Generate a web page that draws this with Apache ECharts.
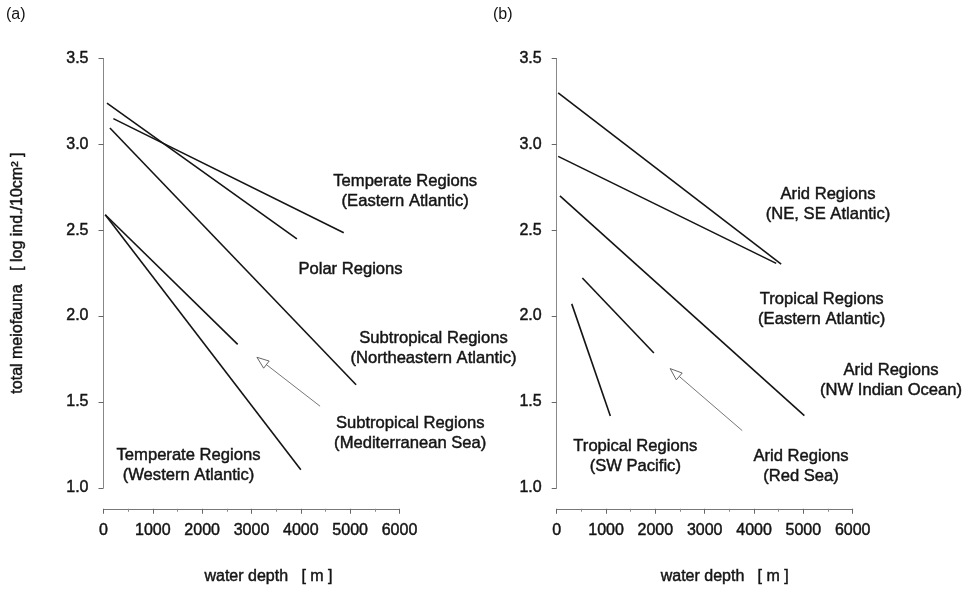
<!DOCTYPE html>
<html>
<head>
<meta charset="utf-8">
<script src="https://cdn.jsdelivr.net/npm/echarts@6/dist/echarts.min.js"></script>
<style>
  html, body { margin: 0; padding: 0; background: #fff; }
  #chart { width: 967px; height: 590px; }
</style>
</head>
<body>
<div id="chart"></div>
<script>
// Regression lines of total meiofauna (log ind./10cm²) against water depth (m).
// Each line is given by its [depth, log abundance] start and end points.

// Panel (a)
const aTemperateEast = [[200, 3.15], [4870, 2.485]];
const aPolar = [[70, 3.24], [3920, 2.45]];
const aSubtropNE = [[130, 3.095], [5120, 1.60]];
const aSubtropMed = [[35, 2.59], [2720, 1.835]];
const aTemperateWest = [[35, 2.59], [4000, 1.105]];
const aArrow = [4390, 1.475, 3110, 1.76]; // tail depth, tail value, head depth, head value

// Panel (b)
const bAridAtlantic = [[30, 3.30], [4550, 2.303]];
const bTropicalEast = [[30, 2.93], [4450, 2.307]];
const bAridIndian = [[65, 2.70], [5020, 1.42]];
const bAridRedSea = [[520, 2.222], [1970, 1.785]];
const bTropicalSWP = [[305, 2.071], [1087, 1.418]];
const bArrow = [3760, 1.333, 2300, 1.694];

// Region labels, anchored at [depth, log abundance]
const aLabelText = [
  'Temperate Regions\n(Eastern Atlantic)',
  'Polar Regions',
  'Subtropical Regions\n(Northeastern Atlantic)',
  'Subtropical Regions\n(Mediterranean Sea)',
  'Temperate Regions\n(Western Atlantic)'
];
const aLabelPos = [[6116, 2.727], [5007, 2.272], [6690, 1.811], [6217, 1.314], [1723, 1.132]];

const bLabelText = [
  'Arid Regions\n(NE, SE Atlantic)',
  'Tropical Regions\n(Eastern Atlantic)',
  'Arid Regions\n(NW Indian Ocean)',
  'Tropical Regions\n(SW Pacific)',
  'Arid Regions\n(Red Sea)'
];
const bLabelPos = [[5500, 2.649], [5372, 2.038], [6777, 1.623], [1593, 1.183], [4952, 1.125]];

// Axis ticks
const depthMin = 0, depthMax = 6000, depthStep = 1000;
const logMin = 1.0, logMax = 3.5, logStep = 0.5;

const FONT = '"Liberation Sans", Arial, sans-serif';
const INK = '#141414';
// slightly heavier type, like the printed figure
const HEAVY = { textBorderColor: INK, textBorderWidth: 0.45 };

const chart = echarts.init(document.getElementById('chart'), null, { renderer: 'canvas' });

function xAxisFor(idx, namePad) {
  return {
    gridIndex: idx, type: 'value', min: depthMin, max: depthMax, interval: depthStep,
    offset: 21,
    axisLine: { show: true, onZero: false, lineStyle: { color: '#777', width: 1 } },
    axisTick: { show: true, length: 5, lineStyle: { color: '#666' } },
    minorTick: { show: true, splitNumber: 2, length: 3, lineStyle: { color: '#888' } },
    splitLine: { show: false }, minorSplitLine: { show: false },
    axisLabel: Object.assign({ margin: 14, fontSize: 16, color: INK, fontFamily: FONT,
      formatter: v => String(v) }, HEAVY),
    name: 'water depth   [ m ]', nameLocation: 'middle', nameGap: 60,
    nameTextStyle: Object.assign({ fontSize: 16, color: INK, fontFamily: FONT, padding: [0, 0, 0, namePad] }, HEAVY)
  };
}

function yAxisFor(idx, withName) {
  const ax = {
    gridIndex: idx, type: 'value', min: logMin, max: logMax, interval: logStep,
    axisLine: { show: true, onZero: false, lineStyle: { color: '#888', width: 1 } },
    axisTick: { show: true, length: 5, lineStyle: { color: '#666' } },
    splitLine: { show: false },
    axisLabel: Object.assign({ margin: 15, fontSize: 16, color: INK, fontFamily: FONT,
      formatter: v => v.toFixed(1) }, HEAVY)
  };
  if (withName) {
    ax.name = 'total meiofauna   [ log ind./10cm² ]';
    ax.nameLocation = 'middle';
    ax.nameGap = 78;
    ax.nameTextStyle = Object.assign({ fontSize: 16, color: INK, fontFamily: FONT }, HEAVY);
  }
  return ax;
}

function lineSeries(points, idx) {
  return {
    type: 'line', xAxisIndex: idx, yAxisIndex: idx, data: points,
    symbol: 'none', silent: true,
    lineStyle: { color: INK, width: 1.6 }
  };
}

function labelSeries(texts, positions, idx) {
  return {
    type: 'scatter', xAxisIndex: idx, yAxisIndex: idx, clip: false, silent: true,
    symbolSize: 0, itemStyle: { color: 'transparent', opacity: 1 },
    data: positions.map((p, i) => ({
      value: p,
      label: Object.assign({
        show: true, position: 'inside', formatter: texts[i],
        fontSize: 16.6, lineHeight: 20, color: INK, fontFamily: FONT, align: 'center'
      }, HEAVY)
    }))
  };
}

function arrowSeries(arrow, idx) {
  return {
    type: 'custom', xAxisIndex: idx, yAxisIndex: idx, silent: true, clip: false,
    data: [arrow],
    encode: { x: [0, 2], y: [1, 3] },
    renderItem: function (params, api) {
      const p0 = api.coord([api.value(0), api.value(1)]);
      const p1 = api.coord([api.value(2), api.value(3)]);
      const dx = p1[0] - p0[0], dy = p1[1] - p0[1];
      const len = Math.hypot(dx, dy);
      const ux = dx / len, uy = dy / len;
      const headLen = 12, headHalf = 4.5;
      const base = [p1[0] - ux * headLen, p1[1] - uy * headLen];
      const l = [base[0] - uy * headHalf, base[1] + ux * headHalf];
      const r = [base[0] + uy * headHalf, base[1] - ux * headHalf];
      return {
        type: 'group',
        children: [
          { type: 'line', shape: { x1: p0[0], y1: p0[1], x2: base[0], y2: base[1] },
            style: { stroke: '#666', lineWidth: 0.9 } },
          { type: 'polygon', shape: { points: [p1, l, r] },
            style: { fill: '#fff', stroke: '#555', lineWidth: 0.9 } }
        ]
      };
    }
  };
}

const option = {
  animation: false,
  backgroundColor: '#fff',
  textStyle: { fontFamily: FONT },
  title: [
    { text: '(a)', left: 6, top: 7, padding: 0, textStyle: { fontSize: 16, fontWeight: 'normal', color: INK, fontFamily: FONT } },
    { text: '(b)', left: 493, top: 7, padding: 0, textStyle: { fontSize: 16, fontWeight: 'normal', color: INK, fontFamily: FONT } }
  ],
  grid: [
    { left: 103.5, top: 58.5, width: 296, height: 430.5 },
    { left: 556.7, top: 58.5, width: 296, height: 431.5 }
  ],
  xAxis: [xAxisFor(0, 34), xAxisFor(1, 40)],
  yAxis: [yAxisFor(0, true), yAxisFor(1, false)],
  series: [
    lineSeries(aTemperateEast, 0),
    lineSeries(aPolar, 0),
    lineSeries(aSubtropNE, 0),
    lineSeries(aSubtropMed, 0),
    lineSeries(aTemperateWest, 0),
    arrowSeries(aArrow, 0),
    labelSeries(aLabelText, aLabelPos, 0),
    lineSeries(bAridAtlantic, 1),
    lineSeries(bTropicalEast, 1),
    lineSeries(bAridIndian, 1),
    lineSeries(bAridRedSea, 1),
    lineSeries(bTropicalSWP, 1),
    arrowSeries(bArrow, 1),
    labelSeries(bLabelText, bLabelPos, 1)
  ]
};

chart.setOption(option);
</script>
</body>
</html>
